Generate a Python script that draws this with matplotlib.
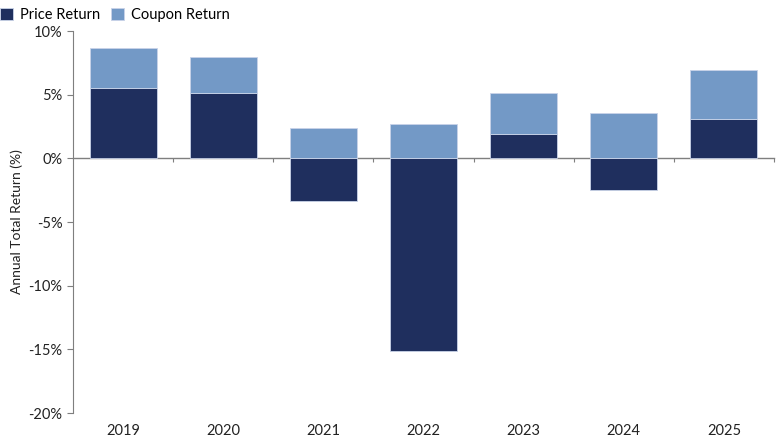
import numpy as np
import matplotlib.pyplot as plt

plt.rcParams['font.family'] = ['Lato', 'DejaVu Sans']

years = ['2019', '2020', '2021', '2022', '2023', '2024', '2025']
price_ret = [5.56, 5.14, -3.35, -15.17, 1.89, -2.49, 3.06]
coupon_ret = [3.09, 2.78, 2.42, 2.67, 3.28, 3.59, 3.88]

navy = '#1f2f5e'
light = '#7399c6'
grey = '#7f7f7f'

fig = plt.figure(figsize=(7.8, 4.4), dpi=100)
ax = fig.add_axes([73/780, 27/440, 701/780, 382/440])

x = np.arange(len(years))
price = np.array(price_ret)
coupon = np.array(coupon_ret)
base = np.where(price > 0, price, 0)

ax.bar(x, price, width=0.67, color=navy, edgecolor='#c9d3e8', linewidth=0.6, label='Price Return')
ax.bar(x, coupon, width=0.67, bottom=base, color=light, edgecolor='#c9d3e8', linewidth=0.6,
       label='Coupon Return')

ax.set_xlim(-0.5, 6.5)
ax.set_ylim(-20, 10)
ax.set_yticks(np.arange(-20, 11, 5))
ax.set_yticklabels([f'{v}%' for v in range(-20, 11, 5)])
ax.set_xticks(x)
ax.set_xticklabels(years)

for s in ['top', 'right', 'bottom']:
    ax.spines[s].set_visible(False)
ax.spines['left'].set_color(grey)
ax.tick_params(axis='y', colors=grey, labelcolor='#222222', labelsize=10.5, length=4, width=0.8)
ax.tick_params(axis='x', length=0, labelsize=10.5, labelcolor='#222222', pad=8)

# zero line with category separators
sec = ax.secondary_xaxis(0, transform=ax.transData)
sec.spines['bottom'].set_color(grey)
sec.spines['bottom'].set_linewidth(1.0)
sec.set_xticks(np.arange(0.5, 7, 1))
sec.tick_params(length=3, width=0.8, colors=grey, labelbottom=False)

ax.set_ylabel('Annual Total Return (%)', fontsize=10, color='#222222', labelpad=4)

fig.legend(loc='upper left', bbox_to_anchor=(-0.017, 1.012), ncol=2, frameon=False, fontsize=10.5,
           handlelength=0.9, handleheight=0.9, handletextpad=0.5, columnspacing=0.7)

fig.savefig('out.png', dpi=100)
